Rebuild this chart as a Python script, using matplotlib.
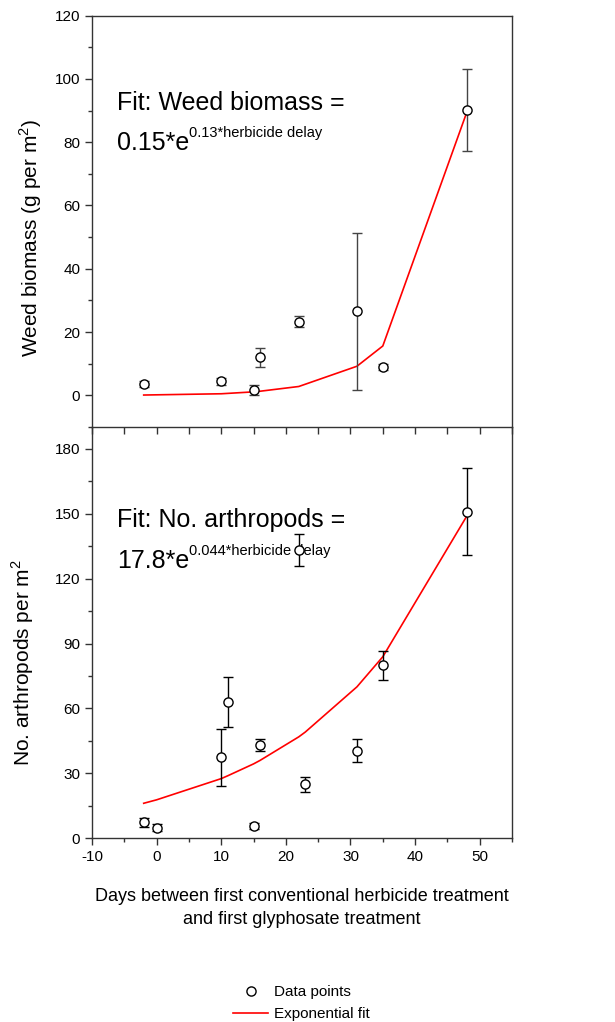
import matplotlib
matplotlib.use('Agg')
import matplotlib.pyplot as plt
from matplotlib.lines import Line2D
from matplotlib.ticker import MultipleLocator

plt.rcParams['font.family'] = ['Liberation Sans', 'DejaVu Sans']
plt.rcParams['axes.unicode_minus'] = False

# weed biomass panel
weed_x = [-2, 10, 15, 16, 22, 31, 35, 48]
weed_y = [3.6, 4.4, 1.7, 12.0, 23.3, 26.6, 9.0, 90.2]
weed_err = [1.0, 1.2, 1.5, 3.0, 1.7, 24.8, 1.0, 13.0]
weed_fit = [0.1, 0.5, 1.1, 1.3, 2.8, 9.2, 15.6, 89.5]

# arthropod panel
arth_x = [-2, 0, 10, 11, 15, 16, 22, 23, 31, 35, 48]
arth_y = [7.4, 4.9, 37.4, 63.1, 5.8, 43.0, 133.2, 24.9, 40.5, 79.9, 151.0]
arth_err = [2.0, 1.5, 13.3, 11.5, 1.5, 2.7, 7.6, 3.5, 5.2, 6.6, 19.9]
arth_fit = [16.2, 17.8, 27.6, 28.9, 34.4, 36.0, 46.9, 49.1, 70.0, 83.9, 148.9]

grey = '#333333'

fig = plt.figure(figsize=(6.15, 10.22), dpi=100)
ax2 = fig.add_axes([0.1496, 0.1797, 0.683, 0.4024])
ax1 = fig.add_axes([0.1496, 0.5822, 0.683, 0.4025])
ax1.patch.set_alpha(0)
ax1.set_zorder(2)


def style(ax):
    for s in ax.spines.values():
        s.set_color(grey)
        s.set_linewidth(1.0)
    ax.tick_params(which='both', direction='out', color=grey, labelsize=11,
                   right=False, top=False)
    ax.tick_params(which='major', length=5, width=1)
    ax.tick_params(which='minor', length=3, width=1)
    ax.xaxis.set_major_locator(MultipleLocator(10))
    ax.xaxis.set_minor_locator(MultipleLocator(5))
    ax.set_xlim(-10, 55)


for ax, x, y, err, fit, col in [(ax1, weed_x, weed_y, weed_err, weed_fit, '#444444'),
                                (ax2, arth_x, arth_y, arth_err, arth_fit, 'black')]:
    ax.plot(x, fit, color='red', lw=1.2, zorder=2)
    ax.errorbar(x, y, yerr=err, fmt='o', mfc='white', mec='black', mew=1.0,
                ms=6.6, ecolor=col, elinewidth=1.0, capsize=3.6, capthick=1.0,
                zorder=3)
    style(ax)

ax1.set_ylim(-10, 120)
ax1.yaxis.set_major_locator(MultipleLocator(20))
ax1.yaxis.set_minor_locator(MultipleLocator(10))
ax1.tick_params(axis='x', which='both', labelbottom=False, length=5)
ax1.set_ylabel('Weed biomass (g per m$^\\mathregular{2}$)', fontsize=15)
ax1.yaxis.set_label_coords(-0.115, 0.46)

ax2.set_ylim(0, 190)
ax2.yaxis.set_major_locator(MultipleLocator(30))
ax2.yaxis.set_minor_locator(MultipleLocator(15))
ax2.spines['top'].set_visible(False)
ax2.set_ylabel('No. arthropods per m$^\\mathregular{2}$', fontsize=15)
ax2.yaxis.set_label_coords(-0.133, 0.427)
ax2.set_xlabel('Days between first conventional herbicide treatment\n'
               'and first glyphosate treatment', fontsize=13, labelpad=17,
               linespacing=1.45)

# fit equations
ax1.text(0.06, 0.771, 'Fit: Weed biomass =', transform=ax1.transAxes,
         fontsize=18, va='baseline')
t1 = ax1.text(0.06, 0.673, '0.15*e', transform=ax1.transAxes,
              fontsize=18, va='baseline')
ax1.annotate('0.13*herbicide delay', xy=(1, 0), xycoords=t1,
             xytext=(0, 13), textcoords='offset points', fontsize=10.5,
             va='baseline')

ax2.text(0.06, 0.758, 'Fit: No. arthropods =', transform=ax2.transAxes,
         fontsize=18, va='baseline')
t2 = ax2.text(0.06, 0.657, '17.8*e', transform=ax2.transAxes,
              fontsize=18, va='baseline')
ax2.annotate('0.044*herbicide delay', xy=(1, 0), xycoords=t2,
             xytext=(0, 13), textcoords='offset points', fontsize=10.5,
             va='baseline')

handles = [Line2D([], [], ls='none', marker='o', mfc='white', mec='black', ms=6.6),
           Line2D([], [], color='red', lw=1.2)]
fig.legend(handles, ['Data points', 'Exponential fit'], loc='center',
           bbox_to_anchor=(0.49, 0.0185), frameon=False, fontsize=11,
           handlelength=2.3, labelspacing=0.55, handletextpad=0.35)

fig.savefig('out.png', dpi=100)
